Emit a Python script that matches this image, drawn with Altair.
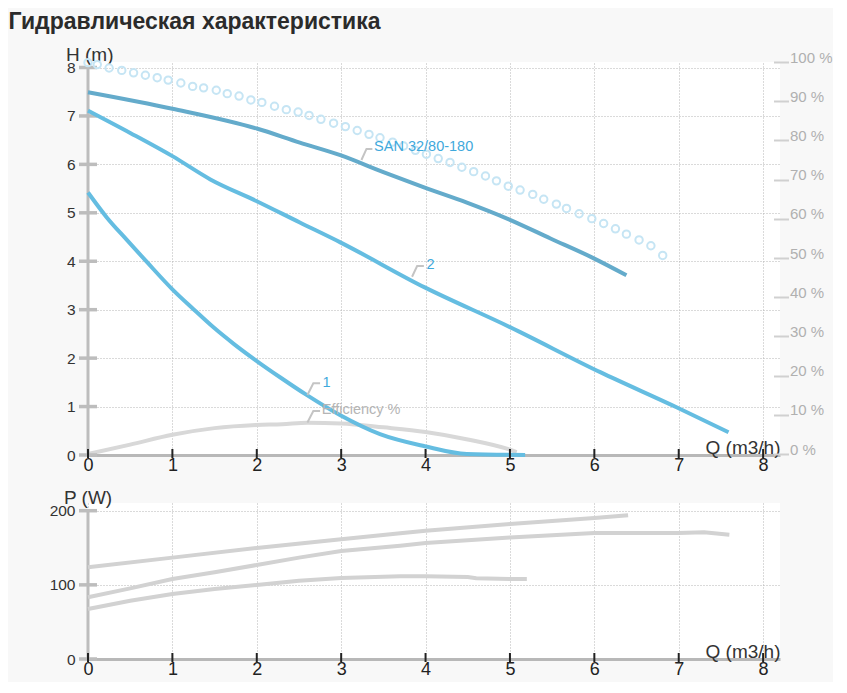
import altair as alt
import pandas as pd

FONT = "Liberation Sans"
TITLE = "Гидравлическая характеристика"

X_TICKS = [0, 1, 2, 3, 4, 5, 6, 7, 8]
H_TICKS = [0, 1, 2, 3, 4, 5, 6, 7, 8]
P_TICKS = [0, 100, 200]
PCT_TICKS = [0, 10, 20, 30, 40, 50, 60, 70, 80, 90, 100]

# Head curves H (m) vs Q (m3/h)
san_q = [0, 1, 2, 2.51, 2.99, 3.5, 3.99, 4.49, 4.98, 5.48, 5.97, 6.38]
san_h = [7.49, 7.15, 6.74, 6.45, 6.19, 5.84, 5.52, 5.21, 4.87, 4.47, 4.08, 3.71]
c2_q = [0, 0.5, 1, 1.45, 2, 2.51, 2.99, 3.99, 5, 6.07, 6.98, 7.59]
c2_h = [7.11, 6.65, 6.17, 5.69, 5.24, 4.80, 4.39, 3.46, 2.64, 1.71, 0.98, 0.47]
c1_q = [0, 0.22, 0.46, 0.70, 1.0, 1.25, 1.49, 1.73, 2.0, 2.28, 2.59, 2.99, 3.46, 3.99, 4.49, 5.18]
c1_h = [5.42, 4.91, 4.44, 3.98, 3.42, 3.01, 2.63, 2.29, 1.94, 1.60, 1.24, 0.82, 0.43, 0.18, 0.02, 0.0]

# Dotted (hollow circle) curve
dot_q = [0.0, 0.11, 0.25, 0.40, 0.54, 0.68, 0.82, 0.95, 1.10, 1.24, 1.37, 1.52, 1.65, 1.79,
         1.93, 2.06, 2.21, 2.35, 2.49, 2.62, 2.76, 2.91, 3.05, 3.19, 3.33, 3.46, 3.61, 3.74,
         3.88, 4.01, 4.15, 4.29, 4.43, 4.57, 4.71, 4.84, 4.98, 5.12, 5.27, 5.40, 5.55, 5.67,
         5.82, 5.97, 6.11, 6.25, 6.38, 6.53, 6.67, 6.81]
dot_h = [8.10, 8.06, 7.99, 7.94, 7.89, 7.84, 7.79, 7.74, 7.68, 7.61, 7.58, 7.53, 7.46, 7.41,
         7.33, 7.28, 7.20, 7.13, 7.08, 7.01, 6.93, 6.85, 6.78, 6.70, 6.62, 6.55, 6.46, 6.38,
         6.29, 6.21, 6.12, 6.04, 5.94, 5.85, 5.76, 5.66, 5.55, 5.47, 5.38, 5.28, 5.18, 5.09,
         4.98, 4.88, 4.78, 4.67, 4.56, 4.44, 4.32, 4.12]

# Efficiency (%)
eff_q = [0, 0.5, 1, 1.5, 2, 2.3, 2.6, 3, 3.5, 4, 4.5, 5, 5.08]
eff_v = [0, 2.4, 4.9, 6.6, 7.4, 7.6, 8.0, 7.8, 6.8, 5.6, 3.7, 1.1, 0.5]

# Power P (W)
pa_q = [0, 1, 2, 3, 3.7, 4, 5, 6, 6.4]
pa_p = [123.7, 136.7, 149.7, 161.4, 169.5, 173, 182, 190, 194]
pb_q = [0, 0.5, 1, 1.5, 2, 2.5, 3, 3.7, 4, 5, 5.5, 6, 7, 7.3, 7.6]
pb_p = [83.2, 95.3, 107.9, 116.9, 126.8, 136.7, 145.6, 152.8, 156.4, 164, 167, 170, 170, 171, 167.7]
pc_q = [0, 0.5, 1, 1.5, 2, 2.5, 3, 3.7, 4, 4.5, 4.6, 5, 5.2]
pc_p = [67.4, 78.6, 87.7, 94.4, 99.8, 105.6, 109.2, 111.5, 111.5, 110.6, 108.8, 107.9, 107.9]

# Curve labels and leader lines (data coordinates)
label_text = ["SAN 32/80-180", "2", "1", "Efficiency %"]
label_q = [3.39, 4.01, 2.78, 2.77]
label_h = [6.27, 3.84, 1.40, 0.85]
label_color = ["#3fa9dc", "#3fa9dc", "#3fa9dc", "#b5b5b5"]
leader_q = [[3.24, 3.30, 3.37], [3.84, 3.90, 3.98], [2.60, 2.67, 2.75], [2.60, 2.67, 2.75]]
leader_h = [[6.09, 6.32, 6.32], [3.68, 3.90, 3.90], [1.24, 1.48, 1.48], [0.67, 0.91, 0.91]]

CURVES = ["SAN 32/80-180", "2", "1"]
CURVE_COLORS = ["#64abcb", "#65bde1", "#65bde1"]

# ---------- data frames ----------
head_df = pd.concat([
    pd.DataFrame({"Q": san_q, "H": san_h, "curve": CURVES[0]}),
    pd.DataFrame({"Q": c2_q, "H": c2_h, "curve": CURVES[1]}),
    pd.DataFrame({"Q": c1_q, "H": c1_h, "curve": CURVES[2]}),
])
dot_df = pd.DataFrame({"Q": dot_q, "H": dot_h})
eff_df = pd.DataFrame({"Q": eff_q, "E": eff_v})
power_df = pd.concat([
    pd.DataFrame({"Q": pa_q, "P": pa_p, "curve": "a"}),
    pd.DataFrame({"Q": pb_q, "P": pb_p, "curve": "b"}),
    pd.DataFrame({"Q": pc_q, "P": pc_p, "curve": "c"}),
])
labels_df = pd.DataFrame({"text": label_text, "Q": label_q, "H": label_h, "color": label_color})
leader_rows = []
for i, (qs, hs_) in enumerate(zip(leader_q, leader_h)):
    for q, h in zip(qs, hs_):
        leader_rows.append({"id": i, "Q": q, "H": h})
leader_df = pd.DataFrame(leader_rows)
xt_df = pd.DataFrame({"Q": X_TICKS})
ht_df = pd.DataFrame({"H": H_TICKS})
pt_df = pd.DataFrame({"P": P_TICKS})
one_df = pd.DataFrame({"k": [0]})

W = 692
H_TOP = 393
H_BOT = 156
GRID = "#b4b4b4"
AXIS_GREY = "#bdbdbd"

xs = alt.Scale(domain=[0, 8.2], nice=False, zero=False)
hs = alt.Scale(domain=[0, 8], nice=False, range=[H_TOP, 5.5])
pcts = alt.Scale(domain=[0, 100], nice=False, range=[392, 0])
ps = alt.Scale(domain=[0, 200], nice=False, range=[H_BOT, 7.7])


def x_axis():
    return alt.Axis(values=X_TICKS, format="d", grid=True, gridColor=GRID, gridDash=[1, 2],
                    gridWidth=1, domain=True, domainColor="#b8b8b8", domainWidth=3,
                    ticks=False, labelFontSize=18, labelColor="#222", labelPadding=1,
                    labelFlush=False, labelOverlap=False, labelFont=FONT,
                    title="Q (m3/h)", titleX=W, titleY=-2, titleAlign="right",
                    titleBaseline="alphabetic", titleFontSize=19, titleFontWeight="normal",
                    titleColor="#333", titleFont=FONT)


def y_axis(values, title, tx, ty):
    return alt.Axis(orient="left", values=values, format="d", grid=True, gridColor=GRID,
                    gridDash=[1, 2], gridWidth=1, domain=False, ticks=False,
                    labelFontSize=15.5, labelColor="#333", labelPadding=13, labelOverlap=False,
                    labelFont=FONT, title=title, titleAngle=0, titleX=tx, titleY=ty,
                    titleAlign="left", titleBaseline="alphabetic", titleFontSize=19,
                    titleFontWeight="normal", titleColor="#333", titleFont=FONT)


h_axis = y_axis(H_TICKS, "H (m)", -22.5, -1.5)
p_axis = y_axis(P_TICKS, "P (W)", -24.5, 0)
pct_axis = alt.Axis(orient="right", values=PCT_TICKS, labelExpr="datum.value + ' %'",
                    grid=False, domain=False, ticks=True, tickSize=15, tickColor="#d0d0d0",
                    tickWidth=2, offset=-6.5, labelPadding=1, labelBaseline="alphabetic",
                    labelFontSize=15, labelColor="#b0b0b0", labelFont=FONT,
                    labelOverlap=False, title=None)


def X(field):
    return alt.X(field, type="quantitative", scale=xs, axis=x_axis())


def XD(v):
    return alt.XDatum(v, type="quantitative", scale=xs, axis=x_axis())


# ---------- top panel ----------
eff_layer = alt.Chart(eff_df).mark_line(color="#d8d8d8", strokeWidth=4,
                                        interpolate="monotone").encode(
    x=X("Q"), y=alt.Y("E:Q", scale=pcts, axis=pct_axis))

hY = lambda f: alt.Y(f, type="quantitative", scale=hs, axis=h_axis)
hYD = lambda v: alt.YDatum(v, type="quantitative", scale=hs, axis=h_axis)

h_axis_line = alt.Chart(one_df).mark_rule(color=AXIS_GREY, strokeWidth=3).encode(
    x=XD(0), y=hYD(0), y2=alt.Y2Datum(8))
h_ticks = alt.Chart(ht_df).mark_tick(orient="horizontal", size=18, thickness=3.5,
                                     color=AXIS_GREY, opacity=1).encode(x=XD(0), y=hY("H"))
dots = alt.Chart(dot_df).mark_point(shape="circle", filled=False, size=55, strokeWidth=2,
                                    color="#c6e5f4", opacity=1).encode(x=X("Q"), y=hY("H"))
head_lines = alt.Chart(head_df).mark_line(strokeWidth=4, interpolate="monotone").encode(
    x=X("Q"), y=hY("H"),
    color=alt.Color("curve:N", scale=alt.Scale(domain=CURVES, range=CURVE_COLORS), legend=None))
leaders = alt.Chart(leader_df).mark_line(color="#c4c4c4", strokeWidth=2).encode(
    x=X("Q"), y=hY("H"), detail="id:N")
labels = alt.Chart(labels_df).mark_text(align="left", baseline="alphabetic", fontSize=14.5,
                                        font=FONT).encode(
    x=X("Q"), y=hY("H"), text="text:N", color=alt.Color("color:N", scale=None))
x_ticks_top = alt.Chart(xt_df).mark_tick(orient="vertical", size=9, thickness=2,
                                         color="#222", opacity=1, yOffset=-1.5).encode(
    x=X("Q"), y=hYD(0))

h_layer = alt.layer(h_axis_line, h_ticks, dots, head_lines, leaders, labels, x_ticks_top)
top = alt.layer(eff_layer, h_layer).resolve_scale(y="independent").properties(
    width=W, height=H_TOP)

# ---------- bottom panel ----------
pY = lambda f: alt.Y(f, type="quantitative", scale=ps, axis=p_axis)
pYD = lambda v: alt.YDatum(v, type="quantitative", scale=ps, axis=p_axis)

p_axis_line = alt.Chart(one_df).mark_rule(color=AXIS_GREY, strokeWidth=3).encode(
    x=XD(0), y=pYD(0), y2=alt.Y2Datum(200))
p_ticks = alt.Chart(pt_df).mark_tick(orient="horizontal", size=18, thickness=3.5,
                                     color=AXIS_GREY, opacity=1).encode(x=XD(0), y=pY("P"))
power_lines = alt.Chart(power_df).mark_line(color="#d2d2d2", strokeWidth=4).encode(
    x=X("Q"), y=pY("P"), detail="curve:N")
x_ticks_bot = alt.Chart(xt_df).mark_tick(orient="vertical", size=9, thickness=2,
                                         color="#222", opacity=1, yOffset=-1.5).encode(
    x=X("Q"), y=pYD(0))

bottom = alt.layer(p_axis_line, p_ticks, power_lines, x_ticks_bot).properties(
    width=W, height=H_BOT)

chart = alt.vconcat(top, bottom, spacing=48, bounds="flush").properties(
    title=alt.Title(TITLE, anchor="start", frame="group", dx=-79.5, fontSize=23,
                    fontWeight="bold", font=FONT, color="#2b2b2b", offset=12),
    background="#f8f8f8",
    padding={"left": 0, "top": 2, "right": 0, "bottom": 4},
).configure_view(fill="white", stroke=None)

chart.save("out.html", embed_options={"renderer": "svg", "actions": False})
